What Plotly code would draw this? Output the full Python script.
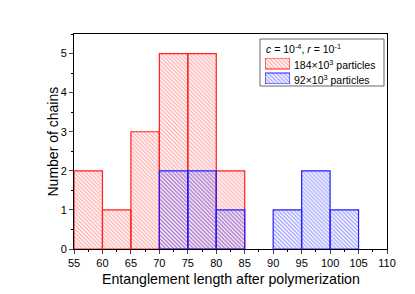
import plotly.graph_objects as go

bin_left = [55, 60, 65, 70, 75, 80, 85, 90, 95, 100]
red_counts = [2, 1, 3, 5, 5, 2, 0, 0, 0, 0]
blue_counts = [0, 0, 0, 2, 2, 1, 0, 1, 2, 1]
bin_width = 5
x_ticks = list(range(55, 111, 5))
x_title = "Entanglement length after polymerization"
y_title = "Number of chains"
legend_title = "<i>c</i> = 10<sup>-4</sup>, <i>r</i> = 10<sup>-1</sup>"
red_name = "184×10<sup>3</sup> particles"
blue_name = "92×10<sup>3</sup> particles"

red_x = [b + bin_width / 2 for b, c in zip(bin_left, red_counts) if c > 0]
red_y = [c for c in red_counts if c > 0]
blue_x = [b + bin_width / 2 for b, c in zip(bin_left, blue_counts) if c > 0]
blue_y = [c for c in blue_counts if c > 0]

RED_LINE, RED_HATCH = "#ff2020", "#ff5a5a"
BLUE_LINE, BLUE_HATCH = "#2020ff", "#4040ff"


def marker(line_c, hatch_c):
    return dict(color="rgba(255,255,255,0)",
                line=dict(color=line_c, width=1.2),
                pattern=dict(shape="\\", fgcolor=hatch_c, bgcolor="rgba(255,255,255,0)",
                             size=2.8, solidity=0.45))


fig = go.Figure()
fig.add_trace(go.Bar(x=red_x, y=red_y, width=bin_width, name=red_name,
                     marker=marker(RED_LINE, RED_HATCH)))
fig.add_trace(go.Bar(x=blue_x, y=blue_y, width=bin_width, name=blue_name,
                     marker=marker(BLUE_LINE, BLUE_HATCH)))

# ---- hand-made legend (plot area in page px: x 74..387, y 34..249) ----
PX0, PX1, PY0, PY1 = 74, 387, 34, 249


def px(x):
    return (x - PX0) / (PX1 - PX0)


def py(y):
    return (PY1 - y) / (PY1 - PY0)


# swatches drawn as bars on a hidden axis pair
fig.add_trace(go.Bar(x=[0.5], y=[11], base=[15], width=1, xaxis="x2", yaxis="y2",
                     marker=marker(RED_LINE, RED_HATCH), showlegend=False, hoverinfo="skip"))
fig.add_trace(go.Bar(x=[0.5], y=[11], base=[0], width=1, xaxis="x2", yaxis="y2",
                     marker=marker(BLUE_LINE, BLUE_HATCH), showlegend=False, hoverinfo="skip"))

font_family = "Liberation Sans, Arial, sans-serif"
# page body adds an 8px offset; compensate with a smaller figure/margins
fig.update_layout(
    width=407, height=286,
    barmode="overlay",
    paper_bgcolor="white", plot_bgcolor="white",
    margin=dict(l=66, r=28, t=26, b=45),
    font=dict(family=font_family, color="black", size=11),
    showlegend=False,
    xaxis=dict(
        range=[55, 110], tickvals=x_ticks, ticks="outside", ticklen=4,
        showline=True, linecolor="black", linewidth=1, mirror=True,
        showgrid=False, zeroline=False, automargin=False,
        minor=dict(dtick=2.5, ticks="outside", ticklen=2, tickcolor="black"),
        tickfont=dict(size=11),
    ),
    yaxis=dict(
        range=[0, 5.5], dtick=1, ticks="outside", ticklen=4,
        showline=True, linecolor="black", linewidth=1, mirror=True,
        showgrid=False, zeroline=False, automargin=False,
        minor=dict(dtick=0.5, ticks="outside", ticklen=2, tickcolor="black"),
        tickfont=dict(size=11),
    ),
    xaxis2=dict(domain=[px(265), px(290)], range=[0, 1], visible=False,
                anchor="y2", fixedrange=True),
    yaxis2=dict(domain=[py(84), py(58)], range=[0, 26], visible=False,
                anchor="x2", fixedrange=True),
    shapes=[
        dict(type="rect", xref="paper", yref="paper",
             x0=px(260), x1=px(384), y0=py(86), y1=py(39),
             line=dict(color="#666666", width=1), fillcolor="white", layer="below"),
    ],
    annotations=[
        dict(text=x_title, xref="paper", yref="paper", x=0.5, y=0,
             xanchor="center", yanchor="middle", yshift=-30, showarrow=False,
             font=dict(size=14.2)),
        dict(text=y_title, xref="paper", yref="paper", x=0, y=0.5,
             xanchor="center", yanchor="middle", xshift=-22, showarrow=False,
             textangle=-90, font=dict(size=14)),
        dict(text=legend_title, xref="paper", yref="paper", x=px(264), y=py(48),
             xanchor="left", yanchor="middle", showarrow=False, font=dict(size=10.5)),
        dict(text=red_name, xref="paper", yref="paper", x=px(292), y=py(64),
             xanchor="left", yanchor="middle", showarrow=False, font=dict(size=10.5)),
        dict(text=blue_name, xref="paper", yref="paper", x=px(292), y=py(79),
             xanchor="left", yanchor="middle", showarrow=False, font=dict(size=10.5)),
    ],
)

fig.write_html("out.html")
